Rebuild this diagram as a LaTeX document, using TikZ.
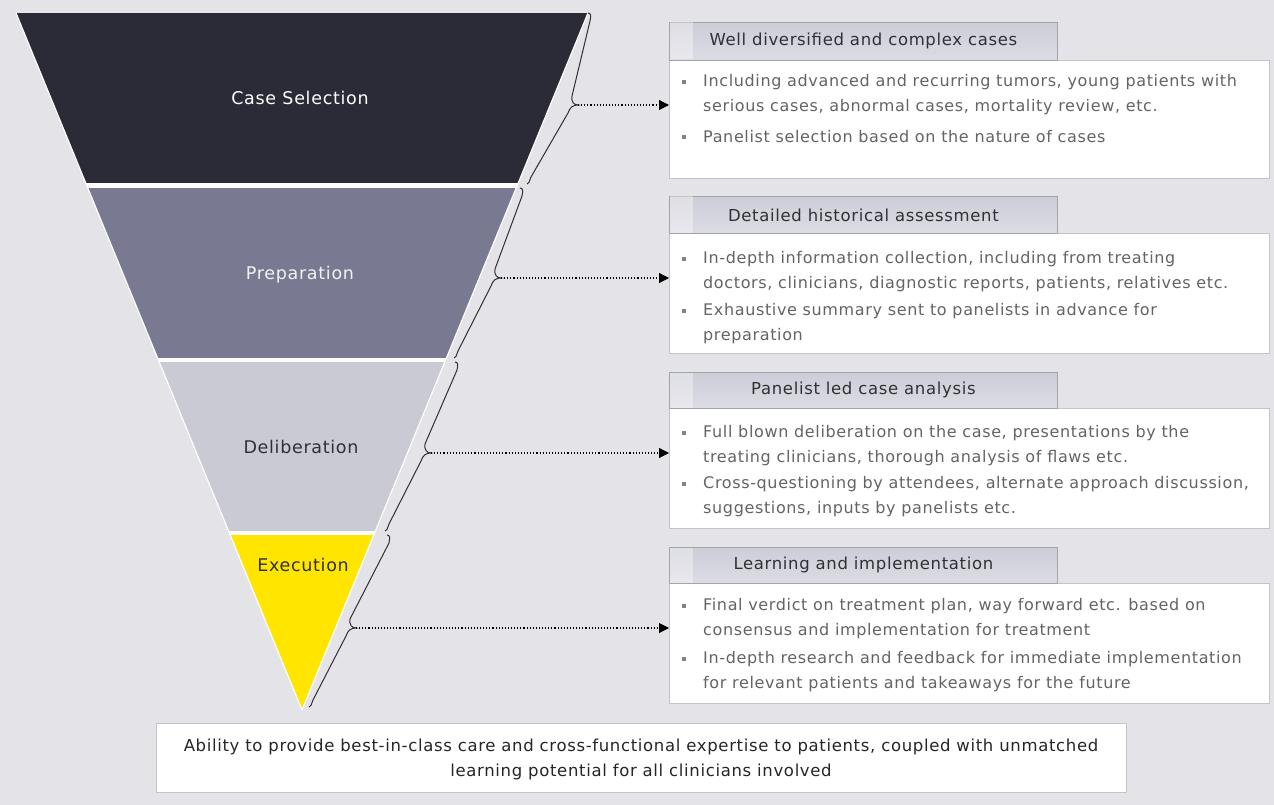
\documentclass[tikz,border=0pt]{standalone}
\usepackage{fontspec}
\setmainfont{DejaVu Sans}[LetterSpace=4]
\usetikzlibrary{arrows.meta,calc}
\definecolor{bgc}{HTML}{E4E4E8}
\definecolor{bandA}{HTML}{2B2B37}
\definecolor{bandB}{HTML}{797A91}
\definecolor{bandC}{HTML}{CACAD4}
\definecolor{bandD}{HTML}{FFE500}
\definecolor{hdrtop}{HTML}{CDCDD8}
\definecolor{hdrbot}{HTML}{DCDCE4}
\definecolor{hdrline}{HTML}{A4A4AC}
\definecolor{boxline}{HTML}{C4C4C8}
\definecolor{bodytext}{HTML}{646466}
\definecolor{hdrtext}{HTML}{303034}
\definecolor{bracec}{HTML}{303034}
\newcommand{\funbrace}[3]{%
  \draw[bracestyle] (#1) .. controls ($(#1)+(3,0)$) and ($(#1)+(3,3)$) .. ($(#1)+(2,8)$)
    -- ($(#2)+(-6,-9)$) .. controls ($(#2)+(-7,-3)$) and ($(#2)+(-4,0)$) .. (#2)
    .. controls ($(#2)+(-5,0)$) and ($(#2)+(-8,2)$) .. ($(#2)+(-10,8)$)
    -- ($(#3)+(4,-7)$) .. controls ($(#3)+(2,-2)$) and ($(#3)+(2,0)$) .. (#3);}
\begin{document}
\begin{tikzpicture}[x=1pt,y=-1pt,
  bracestyle/.style={draw=bracec,line width=1pt},
  funlabel/.style={font=\fontsize{17.5}{20}\selectfont,inner sep=0pt},
  hdrbox/.style={draw=hdrline,line width=0.8pt,top color=hdrtop,bottom color=hdrbot,
     anchor=north west,minimum width=388pt,inner sep=0pt,text=hdrtext,
     font=\fontsize{16.5}{19}\selectfont},
  bodybox/.style={draw=boxline,line width=0.8pt,fill=white,anchor=north west,
     minimum width=600pt,inner sep=0pt},
  bultext/.style={anchor=west,align=left,inner sep=0pt,text=bodytext,
     font=\fontsize{16}{25}\selectfont},
  bulmark/.style={fill=bodytext!80,minimum size=3.5pt,inner sep=0pt},
  linkarrow/.style={draw=black,line width=1.1pt,dotted,-{Triangle[length=10pt,width=10pt]}},
  strip/.style={fill=white,fill opacity=0.35,draw=none}
]
\useasboundingbox (0,0) rectangle (1274,805);
\fill[bgc] (0,0) rectangle (1274,805);

% funnel
\coordinate (ftl) at (16,13);
\coordinate (ftr) at (588,13);
\coordinate (fap) at (302,710);
\fill[white!94!bgc] (ftl) -- (ftr) -- (fap) -- cycle;
\begin{scope}
  \clip (ftl) -- (ftr) -- (fap) -- cycle;
  \fill[bandA] (0,13) rectangle (600,183);
  \fill[bandB] (0,188) rectangle (600,358);
  \fill[bandC] (0,362) rectangle (600,531);
  \fill[bandD] (0,535) rectangle (600,712);
\end{scope}
\draw[white,line width=1.2pt] (ftl) -- (fap) -- (ftr);

\node[funlabel,text=white] (lcase) at (300,98) {Case Selection};
\node[funlabel,text=white!90!bandB] (lprep) at (300,275) {Preparation};
\node[funlabel,text=hdrtext] (ldel) at (301,447) {Deliberation};
\node[funlabel,text=hdrtext] (lexe) at (303,565) {Execution};

% braces
\coordinate (t1) at (588,13);  \coordinate (p1) at (578,105); \coordinate (q1) at (527,184);
\coordinate (t2) at (520,188); \coordinate (p2) at (501,278); \coordinate (q2) at (454,358);
\coordinate (t3) at (455,362); \coordinate (p3) at (431,453); \coordinate (q3) at (385,531);
\coordinate (t4) at (387,535); \coordinate (p4) at (356,628); \coordinate (q4) at (309,707);
\funbrace{t1}{p1}{q1}
\funbrace{t2}{p2}{q2}
\funbrace{t3}{p3}{q3}
\funbrace{t4}{p4}{q4}

% box 1
\node[bodybox,minimum height=118pt] (body1) at (669,60) {};
\node[hdrbox,minimum height=38pt] (hdr1) at (669,22) {Well diversified and complex cases};
\fill[strip] (669.5,22.5) rectangle (693,59.5);
\node[bulmark] (m11) at (684,82) {};
\node[bultext] (b11) at (703,94.5) {Including advanced and recurring tumors, young patients with\\serious cases, abnormal cases, mortality review, etc.};
\node[bulmark] (m12) at (684,137) {};
\node[bultext] (b12) at (703,137) {Panelist selection based on the nature of cases};

% box 2
\node[bodybox,minimum height=120pt] (body2) at (669,233) {};
\node[hdrbox,minimum height=37pt] (hdr2) at (669,196) {Detailed historical assessment};
\fill[strip] (669.5,196.5) rectangle (693,232.5);
\node[bulmark] (m21) at (684,259) {};
\node[bultext] (b21) at (703,271.5) {In-depth information collection, including from treating\\doctors, clinicians, diagnostic reports, patients, relatives etc.};
\node[bulmark] (m22) at (684,311) {};
\node[bultext] (b22) at (703,323.5) {Exhaustive summary sent to panelists in advance for\\preparation};

% box 3
\node[bodybox,minimum height=120pt] (body3) at (669,408) {};
\node[hdrbox,minimum height=36pt] (hdr3) at (669,372) {Panelist led case analysis};
\fill[strip] (669.5,372.5) rectangle (693,407.5);
\node[bulmark] (m31) at (684,433) {};
\node[bultext] (b31) at (703,445.5) {Full blown deliberation on the case, presentations by the\\treating clinicians, thorough analysis of flaws etc.};
\node[bulmark] (m32) at (684,484) {};
\node[bultext] (b32) at (703,496.5) {Cross-questioning by attendees, alternate approach discussion,\\suggestions, inputs by panelists etc.};

% box 4
\node[bodybox,minimum height=120pt] (body4) at (669,583) {};
\node[hdrbox,minimum height=36pt] (hdr4) at (669,547) {Learning and implementation};
\fill[strip] (669.5,547.5) rectangle (693,582.5);
\node[bulmark] (m41) at (684,606) {};
\node[bultext] (b41) at (703,618.5) {Final verdict on treatment plan, way forward etc. based on\\consensus and implementation for treatment};
\node[bulmark] (m42) at (684,659) {};
\node[bultext] (b42) at (703,671.5) {In-depth research and feedback for immediate implementation\\for relevant patients and takeaways for the future};

% arrows
\draw[linkarrow] (p1) -- (p1 -| body1.west);
\draw[linkarrow] (p2) -- (p2 -| body2.west);
\draw[linkarrow] (p3) -- (p3 -| body3.west);
\draw[linkarrow] (p4) -- (p4 -| body4.west);

% bottom box
\node[draw=boxline,line width=0.8pt,fill=white,minimum width=970pt,minimum height=69pt,
  anchor=north west,inner sep=0pt] (final) at (156,723) {};
\node[align=center,inner sep=0pt,text=black!85,font=\fontsize{16.5}{25}\selectfont] (finaltext) at (641,759.5)
  {Ability to provide best-in-class care and cross-functional expertise to patients, coupled with unmatched\\learning potential for all clinicians involved};
\end{tikzpicture}
\end{document}
